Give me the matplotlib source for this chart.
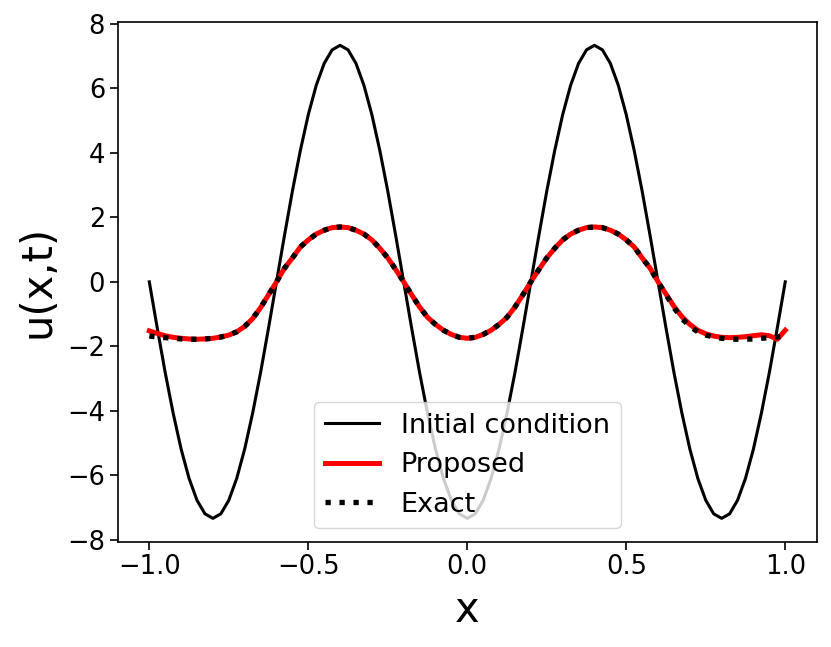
import matplotlib
matplotlib.use("Agg")
import matplotlib.pyplot as plt

# ---- data ----
x_init = [-1.0 + 0.025 * i for i in range(81)]
u_init_half = [-7.33, -7.19, -6.77, -6.09, -5.18, -4.07, -2.81, -1.43, 0.0,
               1.43, 2.81, 4.07, 5.18, 6.09, 6.77, 7.19, 7.33, 7.19, 6.77,
               6.09, 5.18, 4.07, 2.81, 1.43, 0.0, -1.43, -2.81, -4.07, -5.18,
               -6.09, -6.77, -7.19, -7.33, -7.19, -6.77, -6.09, -5.18, -4.07,
               -2.81, -1.43, 0.0]
u_init = u_init_half[::-1] + u_init_half[1:]

x_sol = [-1.0 + 0.025 * i for i in range(81)]
# exact solution, x = 0 .. 1 (even in x)
u_exact_half = [-1.75, -1.72, -1.63, -1.50, -1.32, -1.10, -0.78, -0.40, 0.0,
                0.38, 0.74, 1.04, 1.30, 1.48, 1.60, 1.68, 1.70, 1.68, 1.60,
                1.48, 1.30, 1.08, 0.74, 0.42, 0.0, -0.40, -0.80, -1.14, -1.38,
                -1.55, -1.65, -1.71, -1.75, -1.77, -1.78, -1.78, -1.77, -1.75,
                -1.73, -1.71, -1.68]
u_exact = u_exact_half[::-1] + u_exact_half[1:]

# proposed (network) solution, x = -1 .. 1
u_prop = [-1.52, -1.60, -1.67, -1.72, -1.75, -1.77, -1.78, -1.77, -1.75,
          -1.71, -1.65, -1.55, -1.38, -1.14, -0.80, -0.40, 0.0, 0.42, 0.74,
          1.08, 1.30, 1.48, 1.60, 1.68, 1.70, 1.68, 1.60, 1.48, 1.30, 1.04,
          0.74, 0.38, 0.0, -0.40, -0.78, -1.10, -1.32, -1.50, -1.63, -1.72,
          -1.75,
          -1.72, -1.63, -1.50, -1.32, -1.10, -0.78, -0.40, 0.0,
          0.38, 0.74, 1.04, 1.30, 1.48, 1.60, 1.68, 1.70, 1.68, 1.60,
          1.48, 1.30, 1.08, 0.74, 0.42, 0.0, -0.38, -0.76, -1.08, -1.32,
          -1.50, -1.61, -1.68, -1.72, -1.73, -1.72, -1.70, -1.67, -1.64,
          -1.67, -1.78, -1.50]

labels = ["Initial condition", "Proposed", "Exact"]

fig = plt.figure(figsize=(8.31, 6.47), dpi=100)
ax = fig.add_axes([0.1414, 0.1623, 0.9832 - 0.1414, 0.9665 - 0.1623])

ax.plot(x_init, u_init, color="black", lw=2.2, label=labels[0])
ax.plot(x_sol, u_prop, color="red", lw=3.6, label=labels[1])
ax.plot(x_sol, u_exact, color="black", ls=":", lw=3.8, label=labels[2])

ax.set_xlabel("x", fontsize=30, labelpad=6)
ax.set_ylabel("u(x,t)", fontsize=30, labelpad=6)
ax.tick_params(labelsize=18.5, width=1.2, length=5.5)
for s in ax.spines.values():
    s.set_linewidth(1.2)
ax.set_yticks([-8, -6, -4, -2, 0, 2, 4, 6, 8])
ax.set_xticks([-1.0, -0.5, 0.0, 0.5, 1.0])
ax.legend(loc="lower center", fontsize=19.5)

fig.savefig("out.png", dpi=100)
